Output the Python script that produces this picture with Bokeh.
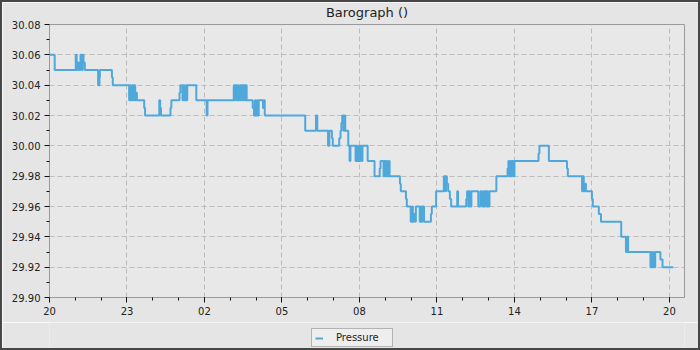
from bokeh.plotting import figure
from bokeh.layouts import column
from bokeh.models import (FixedTicker, Range1d, Legend, LegendItem,
                          NumeralTickFormatter)
from bokeh.embed import file_html
from bokeh.resources import INLINE

TITLE = "Barograph ()"
SERIES = "Pressure"

# minutes after 20:00 (start of record) and pressure in inHg
TIME_MIN = [
    0, 12, 61, 63, 65, 68, 72, 75, 77, 79, 82,
    113, 116, 117, 145, 147,
    185, 187, 189, 192, 194, 196, 199, 201, 203,
    220, 222, 255, 257, 259, 281, 283,
    302, 304, 309, 311, 313, 316, 318, 320,
    341, 365, 367,
    428, 430, 432, 435, 437, 439, 442, 444, 446, 449, 451, 454, 456, 458,
    472, 475, 477, 479, 482, 484, 486,
    496, 498, 500, 594, 619, 622,
    647, 650, 656, 658, 673, 676, 678, 680, 683, 685, 687,
    694, 697, 699, 711, 713, 715, 718, 720, 722, 725, 727,
    739, 755, 767, 769, 776, 778, 781, 783, 785, 788, 790,
    814, 816, 828, 830,
    839, 842, 844, 846, 849, 851, 860, 863, 865, 867, 870,
    886, 888, 898, 916, 919, 921, 923, 926, 930, 933,
    947, 949, 968, 970, 973, 975, 977, 980,
    996, 1001, 1005, 1008, 1010, 1012, 1015, 1017, 1019, 1022,
    1038, 1064, 1066, 1068, 1071, 1073, 1075, 1078, 1080,
    1136, 1138, 1160, 1202, 1204,
    1237, 1239, 1241, 1244, 1246, 1260, 1262, 1276, 1281,
    1328, 1339, 1342, 1344,
    1396, 1398, 1400, 1403, 1405, 1407, 1419, 1424, 1449,
]
PRESSURE = [
    30.06, 30.05, 30.06, 30.05, 30.055, 30.05, 30.06, 30.05, 30.06, 30.055, 30.05,
    30.04, 30.045, 30.05, 30.045, 30.04,
    30.03, 30.04, 30.03, 30.04, 30.03, 30.04, 30.03, 30.035, 30.03,
    30.025, 30.02, 30.03, 30.025, 30.02, 30.025, 30.03,
    30.035, 30.04, 30.03, 30.04, 30.03, 30.04, 30.03, 30.04,
    30.03, 30.02, 30.03,
    30.04, 30.03, 30.04, 30.03, 30.04, 30.03, 30.04, 30.03, 30.04, 30.03, 30.04, 30.03, 30.04, 30.03,
    30.025, 30.02, 30.03, 30.02, 30.03, 30.02, 30.03,
    30.025, 30.03, 30.02, 30.01, 30.02, 30.01,
    30.00, 30.01, 30.005, 30.00, 30.005, 30.01, 30.015, 30.02, 30.01, 30.02, 30.01,
    30.00, 29.99, 30.00, 29.99, 30.00, 29.99, 30.00, 29.99, 30.00, 29.99, 30.00,
    29.99, 29.98, 29.985, 29.99, 29.98, 29.99, 29.98, 29.99, 29.98, 29.99, 29.98,
    29.975, 29.97, 29.965, 29.96,
    29.95, 29.96, 29.95, 29.955, 29.95, 29.96, 29.95, 29.96, 29.95, 29.96, 29.95,
    29.955, 29.96, 29.97, 29.98, 29.97, 29.98, 29.975, 29.97, 29.965, 29.96,
    29.97, 29.96, 29.965, 29.97, 29.96, 29.97, 29.96, 29.97,
    29.96, 29.97, 29.96, 29.97, 29.96, 29.97, 29.96, 29.97, 29.96, 29.97,
    29.98, 29.985, 29.99, 29.98, 29.99, 29.98, 29.99, 29.98, 29.99,
    29.995, 30.00, 29.99, 29.985, 29.98,
    29.97, 29.98, 29.97, 29.975, 29.97, 29.965, 29.96, 29.955, 29.95,
    29.94, 29.93, 29.94, 29.93,
    29.92, 29.93, 29.92, 29.93, 29.92, 29.93, 29.925, 29.92, 29.92,
]

X_TICKS = [0, 180, 360, 540, 720, 900, 1080, 1260, 1440]
X_TICK_LABELS = ["20", "23", "02", "05", "08", "11", "14", "17", "20"]
X_MINOR = [m * 60 for m in range(0, 25)]
X_END = 1475

Y_TICKS = [29.90, 29.92, 29.94, 29.96, 29.98, 30.00, 30.02, 30.04, 30.06, 30.08]
Y_MINOR = [29.91, 29.93, 29.95, 29.97, 29.99, 30.01, 30.03, 30.05, 30.07]

FONT = "DejaVu Sans"
EDGE = "2px solid #474747"
LINE_COLOR = "#4ea8dc"

p = figure(width=700, height=322,
           x_range=Range1d(X_TICKS[0], X_END),
           y_range=Range1d(Y_TICKS[0], Y_TICKS[-1]),
           output_backend="svg", toolbar_location=None,
           min_border_left=47, min_border_right=18,
           min_border_top=21, min_border_bottom=27,
           background_fill_color="#e8e8e8", border_fill_color="#e5e5e5",
           outline_line_color="#9a9a9a", outline_line_width=1)
p.styles = {"border-top": EDGE, "border-left": EDGE, "border-right": EDGE}

p.title.text = TITLE
p.title.align = "center"
p.title.vertical_align = "top"
p.title.text_font = FONT
p.title.text_font_size = "13px"
p.title.text_font_style = "normal"
p.title.text_color = "#222222"
p.title.standoff = 5

r = p.step(TIME_MIN, PRESSURE, mode="after", line_color=LINE_COLOR, line_width=2)

for ax in (p.xaxis[0], p.yaxis[0]):
    ax.axis_line_color = "#9a9a9a"
    ax.major_tick_line_color = "#111111"
    ax.minor_tick_line_color = "#111111"
    ax.major_tick_in = 0
    ax.minor_tick_in = 0
    ax.major_tick_out = 5
    ax.minor_tick_out = 3
    ax.major_label_text_font = FONT
    ax.major_label_text_font_size = "10px"
    ax.major_label_text_color = "#222222"
    ax.major_label_standoff = 4

p.xaxis.ticker = FixedTicker(ticks=X_TICKS, minor_ticks=X_MINOR)
p.xaxis.major_label_overrides = dict(zip(X_TICKS, X_TICK_LABELS))
p.yaxis.ticker = FixedTicker(ticks=Y_TICKS, minor_ticks=Y_MINOR)
p.yaxis.formatter = NumeralTickFormatter(format="0.00")

for g in (p.xgrid[0], p.ygrid[0]):
    g.grid_line_color = "#bdbdbd"
    g.grid_line_dash = "5 3"
    g.grid_line_width = 1

# legend strip below the chart (its frame is aligned with the chart's frame)
q = figure(width=700, height=28, x_range=Range1d(0, 1), y_range=Range1d(0, 1),
           x_axis_type=None, y_axis_type=None,
           output_backend="svg", toolbar_location=None,
           min_border_left=0, min_border_right=0,
           min_border_top=0, min_border_bottom=0,
           background_fill_color="#e5e5e5", border_fill_color="#e5e5e5",
           outline_line_color=None)
q.grid.visible = False
q.styles = {"border-bottom": EDGE, "border-left": EDGE, "border-right": EDGE}
# same series as the chart; it lies outside this strip's ranges, so only its legend swatch shows
proxy = q.step(TIME_MIN, PRESSURE, mode="after", line_color=LINE_COLOR, line_width=2)

legend = Legend(items=[LegendItem(label=SERIES, renderers=[proxy])],
                location=(262, 3), orientation="horizontal",
                padding=3, spacing=0, margin=0,
                glyph_width=8, glyph_height=10, label_height=10,
                label_width=53, label_standoff=13,
                label_text_font=FONT, label_text_font_size="10px",
                label_text_color="#222222",
                background_fill_color="#eeeeee", background_fill_alpha=1,
                border_line_color="#777777", border_line_width=1)
q.add_layout(legend)

layout = column(p, q, spacing=0)
open("out.html", "w").write(file_html(layout, INLINE))
